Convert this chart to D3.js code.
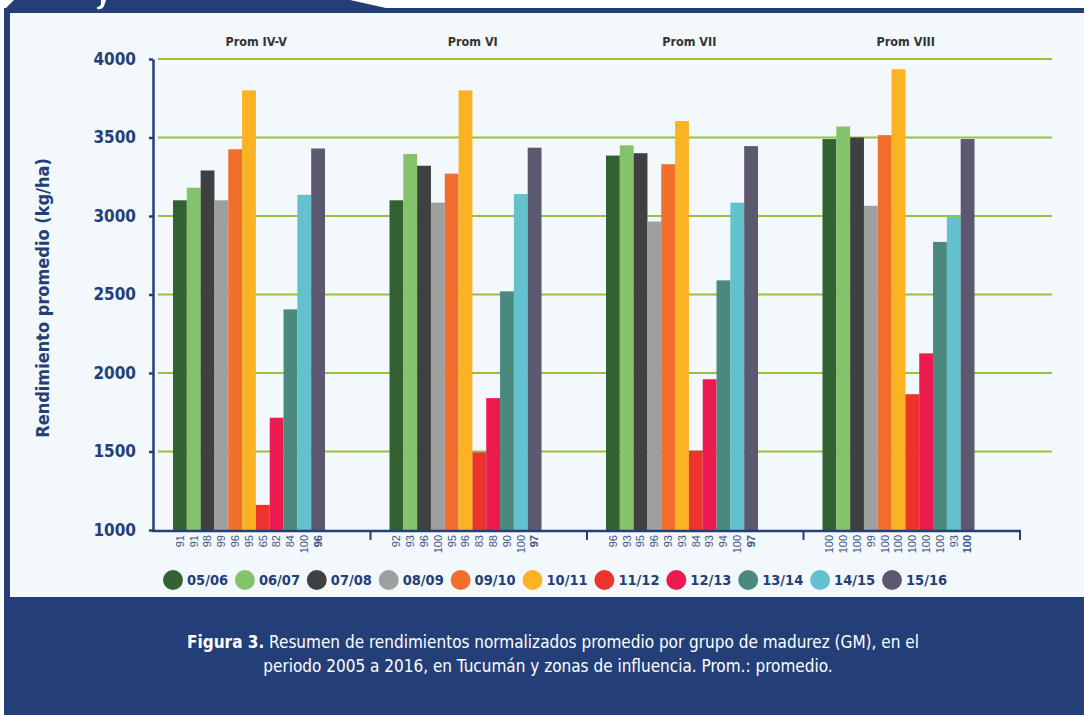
<!DOCTYPE html>
<html>
<head>
<meta charset="utf-8">
<script src="https://cdn.jsdelivr.net/npm/d3@7"></script>
<style>
  body { margin: 0; background: #ffffff; }
  svg { display: block; }
</style>
</head>
<body>
<div id="chart"></div>
<script>
/* Data */
var groups = ["Prom IV-V", "Prom VI", "Prom VII", "Prom VIII"];
var seasons = ["05/06", "06/07", "07/08", "08/09", "09/10", "10/11", "11/12", "12/13", "13/14", "14/15", "15/16"];

/* rendimiento promedio (kg/ha) per season, one array per group */
var promIVV  = [3100, 3180, 3290, 3100, 3425, 3800, 1160, 1715, 2405, 3135, 3430];
var promVI   = [3100, 3395, 3320, 3085, 3270, 3800, 1495, 1840, 2520, 3140, 3435];
var promVII  = [3385, 3450, 3400, 2965, 3330, 3605, 1505, 1960, 2590, 3085, 3445];
var promVIII = [3490, 3570, 3500, 3065, 3515, 3935, 1865, 2125, 2835, 2995, 3490];

/* normalised values printed under each bar */
var gmIVV  = [91, 91, 98, 99, 96, 95, 65, 82, 84, 100, 96];
var gmVI   = [92, 93, 96, 100, 95, 96, 83, 88, 90, 100, 97];
var gmVII  = [96, 93, 95, 96, 93, 93, 84, 93, 94, 100, 97];
var gmVIII = [100, 100, 100, 99, 100, 100, 100, 100, 100, 93, 100];

var yTicks = [1000, 1500, 2000, 2500, 3000, 3500, 4000];

var palette = ["#336131", "#84c26b", "#404040", "#9ea09f", "#f26e2d", "#fcb323",
               "#ec342c", "#ec1a4f", "#4b897e", "#62c1cd", "#5b586f"];

var values = [promIVV, promVI, promVII, promVIII];
var gms = [gmIVV, gmVI, gmVII, gmVIII];

var navy = "#243f78";
var narrow = "'DejaVu Sans Condensed', 'Liberation Sans Narrow', sans-serif";

var W = 1084, H = 715;

var svg = d3.select("#chart")
  .append("svg")
    .attr("width", W)
    .attr("height", H);

/* frame of the page */
svg.append("rect").attr("x", 0).attr("y", 0).attr("width", W).attr("height", H).attr("fill", "#ffffff");
svg.append("rect").attr("x", 4).attr("y", 8).attr("width", W - 4).attr("height", H - 8).attr("fill", navy);
svg.append("path")
  .attr("d", "M4,10 L14,0 L350,0 L386,8 L386,14 L4,14 Z")
  .attr("fill", navy);
/* tail of the cropped header letter */
svg.append("path")
  .attr("d", "M101,0 L106,0 L104,6 Q102,10 97,9 L97,7 Q100,7 101,4 Z")
  .attr("fill", "#ffffff");
svg.append("rect")
  .attr("x", 10).attr("y", 13).attr("width", W - 10).attr("height", 584)
  .attr("fill", "#f3f8fc");

/* scales */
var x0 = d3.scaleBand().domain(groups).range([154, 1020]).paddingInner(0);
var x1 = d3.scaleBand().domain(seasons).range([19, 171]).padding(0);
var y = d3.scaleLinear().domain([1000, 4000]).range([530, 59]);
var color = d3.scaleOrdinal().domain(seasons).range(palette);
var legendX = d3.scalePoint().domain(seasons).range([173, 892]);

/* gridlines */
svg.append("g")
  .selectAll("line")
  .data(yTicks.filter(function (d) { return d > 1000; }))
  .enter()
  .append("line")
    .attr("x1", 158).attr("x2", 1052)
    .attr("y1", function (d) { return y(d); })
    .attr("y2", function (d) { return y(d); })
    .attr("stroke", "#95c13d")
    .attr("stroke-width", 2);

/* bars */
var rows = [];
groups.forEach(function (g, gi) {
  seasons.forEach(function (s, si) {
    rows.push({ group: g, season: s, value: values[gi][si], gm: gms[gi][si], last: si === seasons.length - 1 });
  });
});

svg.append("g")
  .selectAll("rect")
  .data(rows)
  .enter()
  .append("rect")
    .attr("x", function (d) { return x0(d.group) + x1(d.season); })
    .attr("y", function (d) { return y(d.value); })
    .attr("width", x1.bandwidth())
    .attr("height", function (d) { return y(1000) - y(d.value); })
    .attr("fill", function (d) { return color(d.season); });

/* y axis */
var yAxis = svg.append("g")
  .attr("transform", "translate(153,0)")
  .call(d3.axisLeft(y).tickValues(yTicks).tickFormat(d3.format("d"))
    .tickSize(4).tickPadding(13).tickSizeOuter(0));
yAxis.select(".domain").attr("stroke", navy).attr("stroke-width", 2.5);
yAxis.selectAll(".tick line").attr("stroke", navy).attr("stroke-width", 2.5);
yAxis.selectAll(".tick text")
  .attr("fill", navy)
  .style("font-family", narrow)
  .style("font-weight", "bold")
  .style("font-size", "17px");

/* x axis: baseline and group separators */
svg.append("line")
  .attr("x1", 152).attr("x2", 1021)
  .attr("y1", 531).attr("y2", 531)
  .attr("stroke", navy).attr("stroke-width", 2.5);
svg.append("g")
  .selectAll("line")
  .data(groups)
  .enter()
  .append("line")
    .attr("x1", function (d) { return x0(d) + x0.bandwidth(); })
    .attr("x2", function (d) { return x0(d) + x0.bandwidth(); })
    .attr("y1", 531).attr("y2", 540)
    .attr("stroke", navy).attr("stroke-width", 2);

/* values under the bars */
svg.append("g")
  .selectAll("text")
  .data(rows)
  .enter()
  .append("text")
    .attr("transform", function (d) {
      return "translate(" + (x0(d.group) + x1(d.season) + x1.bandwidth() / 2) + ",535) rotate(-90)";
    })
    .attr("text-anchor", "end")
    .attr("dy", "0.35em")
    .attr("fill", "#3d5488")
    .style("font-family", "'Liberation Sans', Arial, sans-serif")
    .style("font-size", "11px")
    .style("font-weight", function (d) { return d.last ? "bold" : "normal"; })
    .text(function (d) { return d.gm; });

/* group titles */
svg.append("g")
  .selectAll("text")
  .data(groups)
  .enter()
  .append("text")
    .attr("x", function (d) { return x0(d) + x0.bandwidth() / 2 - 6; })
    .attr("y", 46)
    .attr("text-anchor", "middle")
    .attr("fill", "#333333")
    .style("font-family", narrow)
    .style("font-weight", "bold")
    .style("font-size", "12.5px")
    .text(function (d) { return d; });

/* y title */
svg.append("text")
  .attr("transform", "translate(49,298) rotate(-90)")
  .attr("text-anchor", "middle")
  .attr("fill", navy)
  .style("font-family", narrow)
  .style("font-weight", "bold")
  .style("font-size", "18px")
  .text("Rendimiento promedio (kg/ha)");

/* legend */
var legend = svg.append("g")
  .selectAll("g")
  .data(seasons)
  .enter()
  .append("g")
    .attr("transform", function (d) { return "translate(" + legendX(d) + ",580)"; });
legend.append("circle").attr("r", 10).attr("fill", function (d) { return color(d); });
legend.append("text")
  .attr("x", 14).attr("dy", "0.36em")
  .attr("fill", navy)
  .style("font-family", narrow)
  .style("font-weight", "bold")
  .style("font-size", "14.5px")
  .text(function (d) { return d; });

/* caption */
var cap1 = svg.append("text")
  .attr("x", 553).attr("y", 648)
  .attr("text-anchor", "middle")
  .attr("fill", "#ffffff")
  .style("font-family", narrow)
  .style("font-size", "17px");
cap1.append("tspan").style("font-weight", "bold").text("Figura 3.");
cap1.append("tspan").text(" Resumen de rendimientos normalizados promedio por grupo de madurez (GM), en el");
svg.append("text")
  .attr("x", 548).attr("y", 672)
  .attr("text-anchor", "middle")
  .attr("fill", "#ffffff")
  .style("font-family", narrow)
  .style("font-size", "17px")
  .text("periodo 2005 a 2016, en Tucumán y zonas de influencia. Prom.: promedio.");
</script>
</body>
</html>
